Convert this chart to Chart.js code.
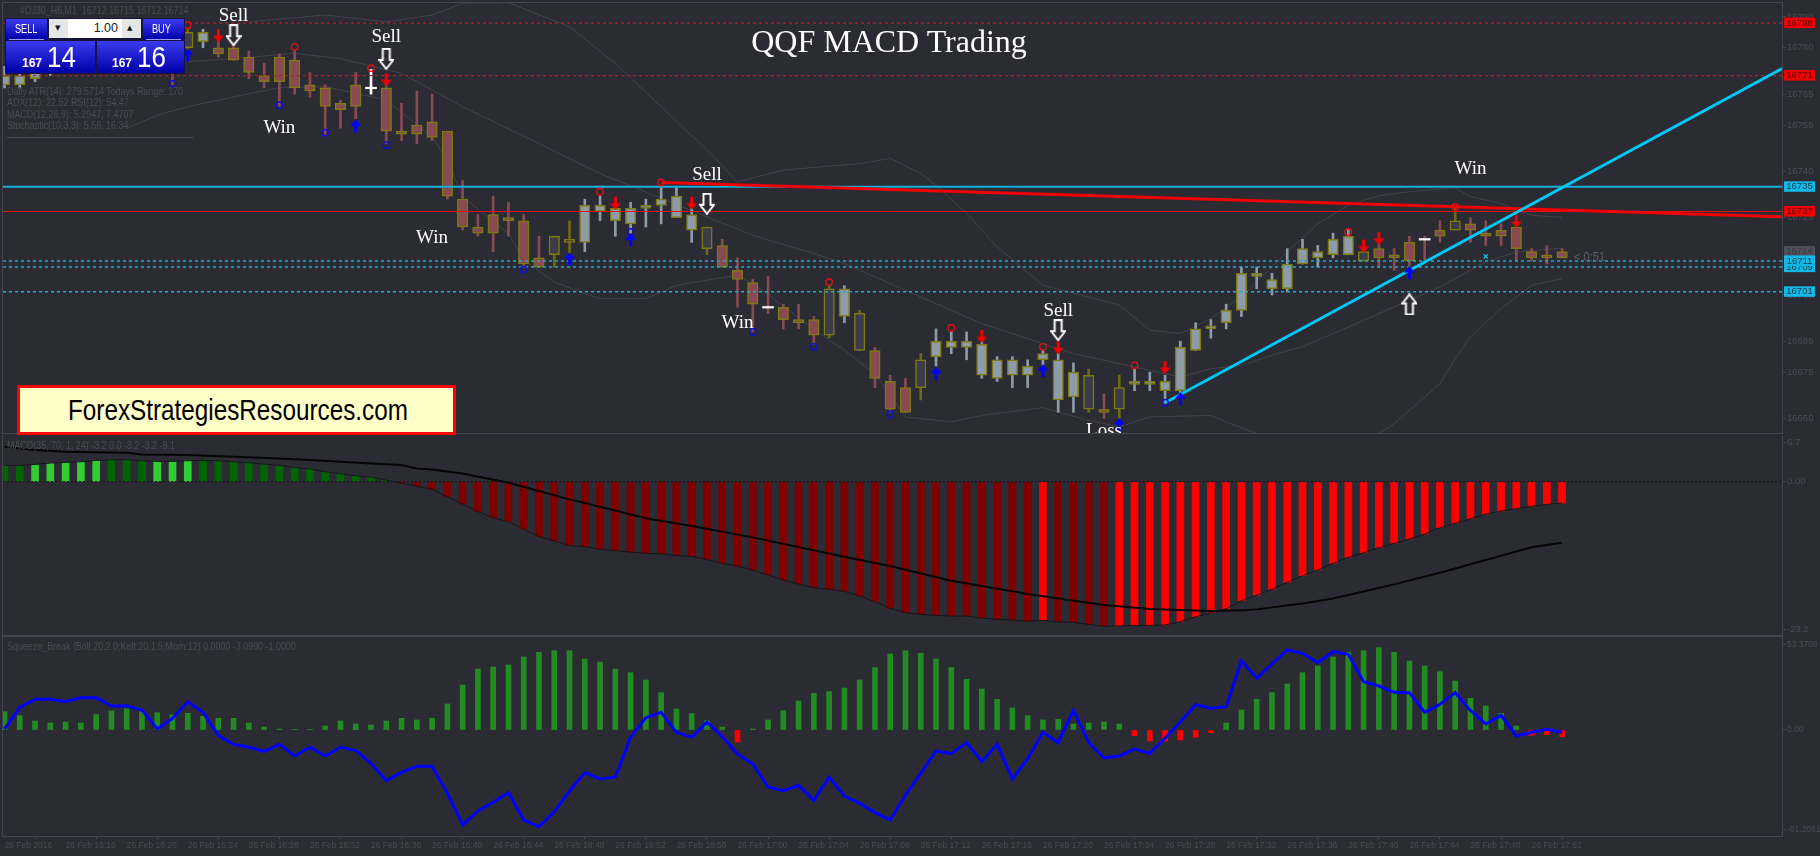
<!DOCTYPE html>
<html>
<head>
<meta charset="utf-8">
<title>QQF MACD Trading</title>
<script src="https://cdn.jsdelivr.net/npm/chart.js@4"></script>
<style>
  html, body { margin: 0; padding: 0; background: #2b2b33; }
  #page { position: relative; width: 1820px; height: 856px; overflow: hidden; background: #2b2b33; }
  canvas { position: absolute; left: 0; display: block; }
  .abs { position: absolute; white-space: nowrap; }
  .dim { color: #4b4b55; font: 11px "Liberation Sans", sans-serif; transform: scaleX(.81); transform-origin: left top; }
  .squeezed { display: inline-block; transform-origin: left top; }
  #title { left: 751px; top: 23px; width: 276px; text-align: center; color: #fff; font: 32px "Liberation Serif", serif; }
  #site { left: 17px; top: 385px; width: 439px; height: 50px; box-sizing: border-box; background: #ffffc8; border: 3px solid #f00;
          color: #000; font: 29px/44px "Liberation Sans", sans-serif; }
  .tile { position: absolute; background: linear-gradient(#3a3af0, #0000a8); color: #fff; font-family: "Liberation Sans", sans-serif; }
</style>
</head>
<body>
<div id="page">
  <canvas id="mainChart" width="1820" height="436" style="top:0"></canvas>
  <canvas id="macdChart" width="1820" height="200" style="top:436px"></canvas>
  <canvas id="squeezeChart" width="1820" height="220" style="top:636px"></canvas>

  <div id="title" class="abs">QQF MACD Trading</div>
  <div id="site" class="abs"><span class="squeezed" style="margin-left:48px;transform:scaleX(.837)">ForexStrategiesResources.com</span></div>

  <div class="abs dim" style="left:20px;top:4px">#DJ30_H6,M1&nbsp; 16712 16715 16712 16714</div>
  <div class="abs dim" style="left:7px;top:85px">Daily ATR(14): 279.5714 Todays Range: 170</div>
  <div class="abs dim" style="left:7px;top:96px">ADX(12): 22.52 RSI(12): 54.47</div>
  <div class="abs dim" style="left:7px;top:108px">MACD(12,26,9): 5.2947, 7.4707</div>
  <div class="abs dim" style="left:7px;top:119px">Stochastic(10,3,3): 5.56, 16:34</div>
  <div class="abs" style="left:7px;top:137px;width:186px;height:1px;background:#4b4b55"></div>
  <div class="abs" style="left:1574px;top:249px;color:#5c5c66;font:13px 'Liberation Sans',sans-serif;transform:scaleX(.85);transform-origin:left top">&lt; 0:51</div>
  <div class="abs dim" style="left:7px;top:439px">MACD(35, 70, 1, 24) -3.2 0.0 -3.2 -3.2 -9.1</div>
  <div class="abs dim" style="left:7px;top:640px">Squeeze_Break (Boll:20,2.0;Kelt:20,1.5;Mom:12) 0.0000 -3.0990 -1.0000</div>

  <!-- one click trading box -->
  <div class="abs" style="left:5px;top:18px;width:180px;height:56px;background:#15153c"></div>
  <div class="tile" style="left:6px;top:19px;width:41px;height:21px;font-size:12px;line-height:20px"><span class="squeezed" style="margin-left:9px;transform:scaleX(.76)">SELL</span></div>
  <div class="tile" style="left:143px;top:19px;width:41px;height:21px;font-size:12px;line-height:20px"><span class="squeezed" style="margin-left:9px;transform:scaleX(.76)">BUY</span></div>
  <div class="abs" style="left:9px;top:39px;width:35px;height:1px;background:#9a9af0"></div>
  <div class="abs" style="left:146px;top:39px;width:35px;height:1px;background:#9a9af0"></div>
  <div class="abs" style="left:49px;top:19px;width:92px;height:19px;background:#e6e6e6"></div>
  <div class="abs" style="left:68px;top:19px;width:54px;height:19px;background:#fff;color:#222;text-align:right;font:12.5px/19px 'Liberation Sans',sans-serif"><span style="margin-right:4px">1.00</span></div>
  <div class="abs" style="left:55px;top:24px;color:#111;font:7px 'DejaVu Sans',sans-serif">▼</div>
  <div class="abs" style="left:127px;top:24px;color:#111;font:7px 'DejaVu Sans',sans-serif">▲</div>
  <div class="tile" style="left:6px;top:41px;width:89px;height:32px">
    <span class="abs" style="left:16px;top:15px;font-size:12px;font-weight:bold">167</span>
    <span class="abs squeezed" style="left:41px;top:-1px;font-size:29.5px;transform:scaleX(.88)">14</span>
  </div>
  <div class="tile" style="left:97px;top:41px;width:87px;height:32px">
    <span class="abs" style="left:15px;top:15px;font-size:12px;font-weight:bold">167</span>
    <span class="abs squeezed" style="left:40px;top:-1px;font-size:29.5px;transform:scaleX(.88)">16</span>
  </div>
</div>

<script>
// Candles in price points (bars 2-10 sit behind the trading box)
const candleHigh = [
  16774,16772,16775,16778,16781,16783,16785,16784,16786,16787,
  16785,16782,16786,16786,16785,16781,16779,16775,16778,16779,
  16772,16768,16763,16772,16773,16769,16762,16766,16765,16753,
  16737,16726,16732,16730,16726,16719,16719,16724,16731,16732,
  16731,16730,16731,16735,16735,16728,16722,16718,16712,16705,
  16706,16697,16697,16693,16703,16703,16695,16683,16674,16673,
  16681,16689,16688,16688,16685,16680,16680,16679,16682,16681,
  16678,16676,16668,16674,16676,16675,16674,16685,16691,16692,
  16697,16709,16709,16707,16715,16718,16716,16720,16721,16714,
  16717,16715,16719,16719,16724,16728,16725,16724,16723,16723,
  16715,16716,16715];
const candleLow = [
  16767,16767,16769,16771,16773,16776,16778,16777,16779,16777,
  16775,16768,16779,16780,16777,16776,16770,16767,16761,16765,
  16764,16752,16754,16757,16765,16749,16750,16749,16750,16731,
  16721,16719,16714,16719,16709,16709,16709,16712,16714,16724,
  16719,16720,16722,16723,16725,16717,16713,16709,16696,16688,
  16694,16689,16689,16684,16686,16691,16682,16670,16662,16662,
  16666,16677,16681,16679,16673,16672,16670,16670,16677,16662,
  16662,16662,16660,16660,16669,16669,16665,16667,16682,16686,
  16689,16693,16702,16700,16701,16710,16709,16712,16713,16711,
  16709,16708,16709,16711,16717,16721,16717,16716,16716,16711,
  16711,16710,16712];
const bodyTop = [
  16771,16771,16773,16776,16779,16781,16783,16782,16784,16785,
  16783,16779,16785,16785,16780,16780,16777,16771,16777,16776,
  16768,16767,16762,16768,16767,16767,16753,16755,16756,16753,
  16731,16722,16726,16725,16724,16712,16719,16718,16729,16729,
  16728,16728,16729,16731,16732,16726,16722,16716,16708,16704,
  16696,16696,16692,16692,16702,16702,16694,16682,16672,16670,
  16679,16685,16685,16685,16684,16679,16679,16677,16681,16679,
  16675,16674,16663,16670,16672,16672,16672,16683,16689,16690,
  16695,16707,16707,16705,16710,16715,16714,16718,16719,16714,
  16715,16713,16717,16718,16721,16724,16723,16720,16721,16722,
  16714,16713,16714];
const bodyBottom = [
  16768,16768,16770,16772,16775,16778,16780,16778,16781,16782,
  16778,16775,16780,16782,16778,16776,16772,16769,16769,16767,
  16766,16761,16760,16761,16767,16753,16752,16752,16751,16732,
  16722,16720,16720,16724,16710,16709,16713,16717,16717,16727,
  16724,16723,16728,16729,16725,16721,16715,16709,16705,16697,
  16696,16692,16691,16687,16687,16693,16682,16673,16663,16662,
  16670,16680,16683,16683,16674,16673,16674,16674,16679,16666,
  16667,16663,16662,16663,16671,16671,16669,16669,16682,16689,
  16691,16695,16706,16702,16702,16710,16712,16713,16713,16711,
  16712,16712,16711,16718,16719,16721,16721,16719,16719,16715,
  16712,16712,16712];
// r = maroon body, g = grey body, d = dark body, w = white doji
const candleKinds = ('ggggrggrgg' + 'rrdgrrrrrr' + 'rrrrwrrrrr' + 'rrrrrrddgg' + 'ggggggdrrr' +
                     'rrrrdgdrrr' + 'dggggggggg' + 'gdrdgggggg' + 'gggggggggd' + 'rrrrrdrrrr' + 'rrr').split('');

// Envelope lines: [bar, price]
const bandUpper = [[16,16788.4],[21,16790.6],[25,16788.4],[28,16790.6],[30,16794.4],[33,16794.6],[37,16786.8],[40,16774.9],
  [46,16746.9],[48,16736.6],[51,16740.4],[54,16741.7],[56,16742.5],[58,16744.2],[60,16739.3],[61,16735.5],[63,16726.4],
  [65,16715.6],[68,16703.1],[73,16696.7],[75,16688.6],[77,16687.5],[79,16692.4],[81,16699.4],[84,16713.9],[86,16723.1],
  [88,16729],[90,16732.1],[92,16733.4],[95,16734.7],[96,16731.8],[98,16729.6],[100,16725.8],[102,16725.1]];
const bandMiddle = [[12,16775.5],[15,16776.5],[19,16778.2],[22,16776.5],[26,16771.7],[30,16760.9],[35,16749],[39,16739.3],
  [46,16725.3],[49,16719.3],[53,16713.4],[55,16710.2],[59,16701.5],[64,16690.7],[70,16681],[74,16676.7],[77,16673.4],
  [79,16676.1],[81,16677.2],[83,16680.5],[85,16683.2],[88,16689.6],[91,16696.1],[94,16702.6],[97,16710.7],[99,16713.9],[102,16715.2]];
const bandLower = [[8,16753.9],[10,16758.2],[12,16760.9],[15,16764.1],[18,16767.1],[21,16767.4],[25,16763.1],[28,16751.2],
  [29,16743.6],[30,16731.7],[33,16719.9],[34,16711.2],[36,16704.2],[38,16700.4],[39,16698.8],[42,16698.8],[44,16703.1],
  [48,16706.4],[49,16703.7],[54,16685.3],[55,16682.1],[57,16674.5],[59,16660.5],[62,16658.9],[64,16661],[68,16663.5],
  [71,16659.4],[73,16657.3],[75,16660.5],[79,16661],[80,16658.9],[82,16655.1],[90,16655.1],[91,16658.3],[94,16671.3],
  [95,16679.4],[96,16686.4],[98,16695.6],[100,16703.1],[102,16705.3]];

// Levels and trend lines
const redDashedLevels = [16788, 16771];
const cyanDashedLevels = [16711, 16709, 16701];
const cyanSolidLevel = 16735;
const redSolidLevel = 16727;
const redTrend = [[43,16736.4],[116.4,16725.3]];
const cyanTrend = [[76,16665.1],[116.4,16773.3]];

// Signal marks: [bar, price]
const redCircles = [[12,16787.3],[19,16780.3],[24,16773.4],[39,16733.4],[43,16736.4],[54,16704.2],[62,16689.3],[68,16683.2],[74,16677.2],[88,16720.4],[95,16728.5]];
const blueCircles = [[11,16768.4],[18,16761.4],[21,16752.5],[25,16748.5],[34,16708.2],[41,16720.4],[49,16688],[53,16683.2],[58,16661.3],[76,16665.1]];
const redArrows = [[14,16783.9],[25,16769.7],[40,16729.7],[45,16729.7],[64,16686.5],[69,16682.9],[76,16676.5],[89,16715.8],[90,16718.3],[99,16723.8]];
const blueArrows = [[12,16777.7],[23,16754.7],[37,16711.7],[41,16717.8],[61,16674.6],[68,16675.5],[73,16658.1],[77,16666.5],[92,16707.2]];
const whiteDownArrows = [[15,16784.1],[25,16776.4],[46,16729.5],[69,16688.6]];
const whiteUpArrows = [[92,16696.9]];
const cyanCrosses = [[97,16712.5]];
const dojiBars = [24, 50, 93];

// Sell / Win / Loss notes: [text, bar, price]
const notes = [['Sell',15,16790.3],['Sell',25,16783.5],['Sell',46,16738.8],['Sell',69,16694.7],
  ['Win',18,16754],['Win',28,16718.4],['Win',48,16690.9],['Win',96,16740.7],['Loss',72,16655.8]];

// Price axis
const priceTicks = [16790,16780,16765,16755,16740,16725,16700,16685,16675,16660];
// Right-hand price tags: [value, background]
const priceTags = [[16788,'#f00000'],[16771,'#f00000'],[16735,'#12b8e8'],[16727,'#f00000'],[16714,'#50505a'],[16709,'#12b8e8'],[16711,'#12b8e8'],[16701,'#12b8e8']];

// MACD panel
const macdHist = [
  2.45,2.45,2.6,2.8,2.9,3.0,3.2,3.3,3.3,3.15,
  3.05,3.05,3.15,3.2,3.15,3.0,2.85,2.65,2.45,2.15,
  1.9,1.5,1.2,0.9,0.7,0.25,-0.25,-0.65,-1.15,-2.25,
  -3.35,-4.5,-5.4,-6.0,-7.15,-8.25,-8.9,-9.6,-9.75,-10.15,
  -10.37,-10.57,-10.77,-10.82,-11.07,-11.22,-11.67,-12.27,-12.67,-13.27,
  -14.02,-14.77,-15.37,-15.92,-16.17,-16.47,-17.18,-18.03,-19.03,-19.68,
  -19.93,-20.08,-20.18,-20.18,-20.48,-20.68,-20.78,-20.98,-20.83,-21.08,
  -21.13,-21.43,-21.73,-21.68,-21.58,-21.58,-21.53,-21.03,-20.28,-19.68,
  -19.08,-17.88,-17.03,-16.17,-15.12,-14.12,-13.27,-12.27,-11.37,-10.67,
  -9.91,-9.26,-8.61,-7.86,-6.91,-6.26,-5.56,-4.86,-4.41,-4.06,
  -3.71,-3.41,-3.2];
// l = light green, g = dark green, m = dark red, r = bright red
const macdShades = ('gglllllggg' + 'lllggggggg' + 'ggggggmmmm' + 'mmmmmmmmmm' + 'mmmmmmmmmm' +
                    'mmmmmmmmmm' + 'mmmmmmmmrm' + 'mmmrrrrrrr' + 'rrrrrrrrrr' + 'rrrrrrrrrr' + 'rrr').split('');
const macdSignal = [[0,5.26],[2,4.76],[4,4.5],[8,4.36],[9,4.1],[12,4],[15,3.76],[18,3.5],[20,3.25],[22,3],[24,2.75],[26,2.5],[27,2],[28,1.85],
  [30,1.25],[33,-0.15],[35,-1.4],[37,-2.65],[39,-3.76],[42,-5.5],[45,-6.66],[49,-8.36],[55,-11.27],[58,-12.67],[62,-14.87],[67,-16.88],
  [72,-18.53],[75,-19.13],[79,-19.43],[81,-19.33],[82,-19.18],[85,-18.28],[87,-17.53],[88,-17.03],[91,-15.42],[94,-13.67],[97,-11.77],[100,-9.86],[102,-9.16]];
const macdAxisLabels = [[5.86,'6.7'],[0,'0.00'],[-22.18,'-23.2']];

// Squeeze panel
const squeezeHist = [
  10.55,8.25,5.18,4.03,4.6,4.03,8.83,10.94,12.28,10.55,
  9.98,8.83,9.6,7.87,6.72,6.72,4.03,1.73,0.58,0.2,
  0.2,2.3,5.18,3.45,2.88,5.18,6.72,5.76,6.72,14.97,
  25.9,35.1,36.27,37.42,42.03,44.71,45.67,45.67,40.88,39.15,
  35.1,33,28.8,21.5,12.1,9.4,5.37,1.73,-6.9,0.58,
  5.76,11.13,16.7,21.1,22.07,24.18,28.8,35.9,43.75,45.67,
  44.14,40.88,35.9,29.17,23.6,17.65,12.67,8.25,5.76,6.14,
  3.45,4.03,4.6,3.45,-3.26,-6.33,-6.33,-5.76,-4.22,-1.54,
  4.03,11.51,17.65,21.5,26.5,33,36.85,42.03,44.71,45.67,
  47.4,44.71,39.72,36.85,33.58,28.2,18.23,13.82,9.6,2.3,
  -3.07,-2.69,-3.84];
const squeezeLine = [
  0.58,13.05,17.65,17.65,16.31,18.61,18.61,13.82,13.82,11.51,
  0.58,6.72,16.31,10.17,-3.26,-8.25,-9.98,-12.28,-8.25,-14.97,
  -9.98,-14.97,-9.98,-11.9,-19.19,-29.17,-24.37,-20.92,-20.92,-36.46,
  -54.69,-46.63,-41.64,-36.08,-51.81,-55.65,-47.02,-35.12,-24.56,-28.21,
  -27.06,-4.22,7.1,10.17,-1.34,-4.22,4.6,-3.84,-13.82,-19.57,
  -32.82,-34.93,-31.86,-40.68,-27.06,-38,-42.22,-47.59,-51.81,-37.42,
  -24.95,-12.09,-13.63,-7.29,-18.23,-8.25,-28.21,-16.7,-1.34,-7.29,
  11.51,-7.29,-16.12,-14.97,-10.94,-13.43,-4.8,4.8,14.58,12.47,
  13.43,39.92,29.75,38,46.06,44.14,38.76,45.1,43.56,27.83,
  25.33,21.68,21.49,10.17,14.78,21.49,11.13,3.45,8.44,-3.45,
  -1.34,0.38,-1.34];
const squeezeAxisLabels = [[49.3,'53.3709'],[0,'0.00'],[-57.2,'-61.2081']];
const timeLabels = ['26 Feb 2016','26 Feb 16:16','26 Feb 16:20','26 Feb 16:24','26 Feb 16:28','26 Feb 16:32','26 Feb 16:36',
  '26 Feb 16:40','26 Feb 16:44','26 Feb 16:48','26 Feb 16:52','26 Feb 16:56','26 Feb 17:00','26 Feb 17:04','26 Feb 17:08',
  '26 Feb 17:12','26 Feb 17:16','26 Feb 17:20','26 Feb 17:24','26 Feb 17:28','26 Feb 17:32','26 Feb 17:36','26 Feb 17:40',
  '26 Feb 17:44','26 Feb 17:48','26 Feb 17:52'];
const BARS_PER_TIME_LABEL = 4;

const DIM = '#4b4b55';
const BAND = '#42424c';
const FRAME = '#45454f';
const AXIS_FONT = '"Liberation Sans", sans-serif';
const X_MIN = -0.1;
const X_MAX = 116.4;
const kindFill = { r: '#8a4a52', g: '#8f9ca8', d: '#3b3b49', w: '#ffffff' };
const kindWick = { r: '#8a4a52', g: '#8f9ca8', d: '#6f6a12', w: '#ffffff' };
const macdFill = { l: '#32cd32', g: '#006400', m: '#800000', r: '#ff0000' };

const toPoints = list => list.map(p => ({ x: p[0], y: p[1] }));
const level = v => [{ x: X_MIN, y: v }, { x: X_MAX, y: v }];
// Chart.js reserves room for edge labels; the panels here sit edge to edge
const noMargins = s => { s.paddingLeft = 0; s.paddingRight = 0; s.paddingTop = 0; s.paddingBottom = 0; };

// Small arrow sprite used as a point style
function makeArrow(color, down, w, h, hollow) {
  const c = document.createElement('canvas');
  c.width = w + 2;
  c.height = h + 2;
  const g = c.getContext('2d');
  const shaft = hollow ? w * 0.5 : 3;
  const head = h * (hollow ? 0.45 : 0.5);
  if (down) { g.translate(0, c.height); g.scale(1, -1); }
  g.translate(1, 1);
  g.beginPath();
  g.moveTo(w / 2, 0);
  g.lineTo(w, head);
  g.lineTo((w + shaft) / 2, head);
  g.lineTo((w + shaft) / 2, h);
  g.lineTo((w - shaft) / 2, h);
  g.lineTo((w - shaft) / 2, head);
  g.lineTo(0, head);
  g.closePath();
  if (hollow) {
    g.fillStyle = '#2b2b33';
    g.fill();
    g.lineWidth = 2;
    g.strokeStyle = color;
    g.stroke();
  } else {
    g.fillStyle = color;
    g.fill();
  }
  return c;
}

function lineSet(data, color, width, order, extra) {
  return Object.assign({ type: 'line', data: data, borderColor: color, borderWidth: width, pointRadius: 0, tension: 0, fill: false, order: order }, extra || {});
}
function markSet(data, style, color, order, radius) {
  return { type: 'line', data: toPoints(data), showLine: false, pointStyle: style, pointRadius: radius, pointBorderColor: color,
           pointBackgroundColor: 'transparent', pointBorderWidth: 1.4, order: order };
}

// Panel frame behind the marks
const framePlugin = {
  id: 'frame',
  beforeDatasetsDraw(chart) {
    const a = chart.chartArea, g = chart.ctx;
    g.save();
    g.strokeStyle = FRAME;
    g.lineWidth = 1;
    g.strokeRect(a.left - 0.5, a.top - 0.5, a.right - a.left + 1, a.bottom - a.top + 1);
    g.restore();
  }
};

// Sell / Win / Loss notes and the coloured price tags on the axis
const notesPlugin = {
  id: 'notes',
  afterDatasetsDraw(chart) {
    const a = chart.chartArea, g = chart.ctx, sx = chart.scales.x, sy = chart.scales.y;
    g.save();
    g.beginPath();
    g.rect(a.left, a.top, a.right - a.left, a.bottom - a.top);
    g.clip();
    g.fillStyle = '#fff';
    g.font = '19px "Liberation Serif", serif';
    g.textAlign = 'center';
    g.textBaseline = 'middle';
    notes.forEach(n => g.fillText(n[0], sx.getPixelForValue(n[1]), sy.getPixelForValue(n[2])));
    g.restore();
  },
  afterDraw(chart) {
    const a = chart.chartArea, g = chart.ctx, sy = chart.scales.y;
    g.save();
    g.font = '9.5px ' + AXIS_FONT;
    g.textAlign = 'center';
    g.textBaseline = 'middle';
    priceTags.forEach(t => {
      const y = sy.getPixelForValue(t[0]);
      g.fillStyle = t[1];
      g.fillRect(a.right + 2, y - 5.5, 31, 10.5);
      g.fillStyle = t[1] === '#50505a' ? '#3a3a44' : (t[1] === '#f00000' ? '#5a0000' : '#10404e');
      g.fillText(String(t[0]), a.right + 17.5, y);
    });
    g.restore();
  }
};

function xScale(show) {
  return {
    type: 'linear', min: X_MIN, max: X_MAX, offset: false, display: show,
    afterFit: noMargins,
    grid: { display: false }, border: { display: false }
  };
}
function yScale(min, max, values, labelFor, fontSize) {
  return {
    position: 'right', min: min, max: max,
    afterBuildTicks: s => { s.ticks = values.map(v => ({ value: v })); },
    afterFit: s => { s.width = 38; noMargins(s); },
    grid: { drawOnChartArea: false, color: FRAME, tickLength: 4 },
    border: { display: false },
    ticks: { color: DIM, padding: 1, autoSkip: false, font: { family: AXIS_FONT, size: fontSize }, callback: labelFor }
  };
}
function chartOptions(x, y, padding) {
  return {
    responsive: false, animation: false, events: [], devicePixelRatio: 1,
    // autoPadding would push the panel in by the point radius
    layout: { padding: padding, autoPadding: false },
    plugins: { legend: { display: false }, tooltip: { enabled: false }, title: { display: false } },
    datasets: { bar: { grouped: false } },
    scales: { x: x, y: y }
  };
}

// Price panel
const wickData = candleHigh.map((h, i) => ({ x: i, y: [candleLow[i], h] }));
const bodyData = bodyTop.map((t, i) => ({ x: i, y: [bodyBottom[i], t] })).filter(b => b.y[0] !== b.y[1]);
const dojiData = dojiBars.map(i => ({ x: i, y: [bodyTop[i] - 0.25, bodyTop[i] + 0.25] }));

new Chart(document.getElementById('mainChart'), {
  type: 'bar',
  data: {
    datasets: [
      lineSet(toPoints(bandUpper), BAND, 1, 20),
      lineSet(toPoints(bandMiddle), BAND, 1, 20),
      lineSet(toPoints(bandLower), BAND, 1, 20),
      { data: wickData, barThickness: 2, grouped: false, order: 19, borderWidth: 0,
        backgroundColor: c => kindWick[candleKinds[c.raw.x]] },
      { data: bodyData, barThickness: 10.5, grouped: false, order: 18, borderWidth: 1.5, borderSkipped: false,
        borderColor: '#7d7a10', backgroundColor: c => kindFill[candleKinds[c.raw.x]] },
      { data: dojiData, barThickness: 11, grouped: false, order: 17, borderWidth: 0, backgroundColor: '#ffffff' },
      lineSet(level(redDashedLevels[0]), '#c8141e', 1.2, 10, { borderDash: [3, 3] }),
      lineSet(level(redDashedLevels[1]), '#c8141e', 1.2, 10, { borderDash: [3, 3] }),
      lineSet(level(redSolidLevel), '#e01010', 1, 10),
      lineSet(level(cyanSolidLevel), '#12b0dc', 2, 10),
      lineSet(level(cyanDashedLevels[0]), '#12b0dc', 1.5, 10, { borderDash: [3, 3] }),
      lineSet(level(cyanDashedLevels[1]), '#12b0dc', 1.5, 10, { borderDash: [3, 3] }),
      lineSet(level(cyanDashedLevels[2]), '#12b0dc', 1.5, 10, { borderDash: [3, 3] }),
      lineSet(toPoints(redTrend), '#f00000', 3, 9),
      lineSet(toPoints(cyanTrend), '#00c8f5', 3, 8),
      markSet(redCircles, 'circle', '#e01010', 6, 3.2),
      markSet(blueCircles, 'circle', '#1010d8', 6, 3.2),
      markSet(cyanCrosses, 'crossRot', '#12b8e8', 6, 3),
      markSet(redArrows, makeArrow('#f00000', true, 11, 13, false), '#f00000', 5, 6),
      markSet(blueArrows, makeArrow('#0000ff', false, 11, 13, false), '#0000ff', 5, 6),
      markSet(whiteDownArrows, makeArrow('#ffffff', true, 14, 20, true), '#ffffff', 4, 6),
      markSet(whiteUpArrows, makeArrow('#ffffff', false, 14, 20, true), '#ffffff', 4, 6)
    ]
  },
  options: chartOptions(xScale(false), yScale(16655.3, 16794.5, priceTicks, v => String(v), 9.5), { left: 3, top: 3, bottom: 3, right: 0 }),
  plugins: [framePlugin, notesPlugin]
});

// Histogram panels label their axis with the names in the lists above
const labelLookup = list => v => {
  const hit = list.find(p => p[0] === v);
  return hit ? hit[1] : '';
};

// MACD panel
new Chart(document.getElementById('macdChart'), {
  type: 'bar',
  data: {
    datasets: [
      { data: macdHist.map((v, i) => ({ x: i, y: v })), barThickness: 7, grouped: false, order: 5, borderWidth: 0,
        backgroundColor: c => macdFill[macdShades[c.raw.x]] },
      lineSet(level(0), '#14141a', 1, 4, { borderDash: [2, 2] }),
      lineSet(macdHist.map((v, i) => ({ x: i, y: v })), '#16161c', 1, 3),
      lineSet(toPoints(macdSignal), '#050505', 2, 2)
    ]
  },
  options: chartOptions(xScale(false), yScale(-23.03, 6.87, macdAxisLabels.map(p => p[0]), labelLookup(macdAxisLabels), 9.5), { left: 3, top: 0, bottom: 1, right: 0 }),
  plugins: [framePlugin]
});

// Squeeze panel, with the time axis
const timeAxis = xScale(true);
timeAxis.afterBuildTicks = s => { s.ticks = timeLabels.map((t, k) => ({ value: k * BARS_PER_TIME_LABEL })); };
timeAxis.afterFit = s => { s.height = 20; noMargins(s); };
timeAxis.grid = { drawOnChartArea: false, color: FRAME, tickLength: 3 };
timeAxis.ticks = { color: DIM, align: 'start', autoSkip: false, maxRotation: 0, padding: 2, font: { family: AXIS_FONT, size: 8.5 },
                   callback: v => timeLabels[Math.round(v / BARS_PER_TIME_LABEL)] };

new Chart(document.getElementById('squeezeChart'), {
  type: 'bar',
  data: {
    datasets: [
      { data: squeezeHist.map((v, i) => ({ x: i, y: v })), barThickness: 5, grouped: false, order: 3, borderWidth: 0,
        backgroundColor: c => c.raw.y < 0 ? '#ff0000' : '#228b22' },
      lineSet(squeezeLine.map((v, i) => ({ x: i, y: v })), '#0000ff', 3, 1)
    ]
  },
  options: chartOptions(timeAxis, yScale(-61.04, 53.54, squeezeAxisLabels.map(p => p[0]), labelLookup(squeezeAxisLabels), 8.5), { left: 3, top: 1, bottom: 0, right: 0 }),
  plugins: [framePlugin]
});
</script>
</body>
</html>
